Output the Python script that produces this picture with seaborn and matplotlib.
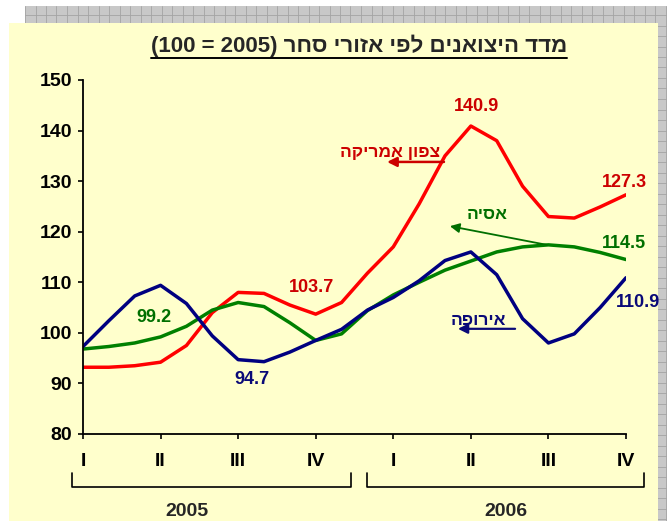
import matplotlib; matplotlib.use("Agg")
import matplotlib.pyplot as plt
import matplotlib.transforms as mtransforms
import numpy as np
import pandas as pd
import seaborn as sns
from matplotlib.lines import Line2D
from matplotlib.patches import Rectangle

# ---- data (monthly index, quarters marked every 3 months) ----
months = np.arange(22)
quarter_ticks = np.arange(0, 22, 3)
quarter_labels = ["I", "II", "III", "IV", "I", "II", "III", "IV"]
years = ["2005", "2006"]
north_america = [93.2, 93.2, 93.5, 94.2, 97.5, 104.0, 108.0, 107.8, 105.5, 103.7, 106.0,
                 111.8, 117.0, 125.5, 135.0, 140.9, 138.0, 129.0, 123.0, 122.7, 124.9, 127.3]
asia = [96.8, 97.3, 98.0, 99.2, 101.3, 104.5, 106.0, 105.2, 102.0, 98.5, 99.8,
        104.4, 107.5, 110.0, 112.4, 114.2, 116.0, 117.0, 117.4, 117.0, 115.9, 114.5]
europe = [97.3, 102.4, 107.3, 109.4, 105.8, 99.4, 94.7, 94.3, 96.2, 98.5, 100.7,
          104.5, 107.0, 110.3, 114.3, 116.0, 111.5, 102.8, 98.0, 99.8, 105.0, 110.9]

def rtl(s):
    # matplotlib lays glyphs left to right: reverse pure Hebrew runs
    return s[::-1]

TITLE = "(100 = 2005) " + rtl("מדד היצואנים לפי אזורי סחר")
NAMES = {"na": "צפון אמריקה", "asia": "אסיה", "eu": "אירופה"}
LINE_C = {"na": "#FF0000", "asia": "#008000", "eu": "#000080"}
TEXT_C = {"na": "#CC0000", "asia": "#006F00", "eu": "#0A0A78"}

df = pd.DataFrame({"month": np.tile(months, 3),
                   "value": north_america + asia + europe,
                   "region": ["na"] * 22 + ["asia"] * 22 + ["eu"] * 22})

sns.set_style("ticks")
plt.rcParams["font.family"] = ["Liberation Sans", "DejaVu Sans"]
plt.rcParams["font.weight"] = "bold"

W, H = 667, 521
fig = plt.figure(figsize=(W / 100, H / 100), dpi=100, facecolor="white")

def fx(x): return x / W
def fy(y): return 1 - y / H

# ---- background: grey grid frame + pale yellow panel ----
fig.patches.append(Rectangle((fx(25), 0), fx(667 - 25), fy(6), transform=fig.transFigure,
                             facecolor="#C8C8C8", edgecolor="none", zorder=-10))
for gx in np.arange(25, 668, 10.5):
    fig.lines.append(Line2D([fx(gx)] * 2, [0, fy(6)], transform=fig.transFigure,
                            color="#A4A4A4", lw=0.6, zorder=-9))
for gy in np.arange(15, 522, 10.5):
    fig.lines.append(Line2D([fx(25), 1], [fy(gy)] * 2, transform=fig.transFigure,
                            color="#A4A4A4", lw=0.6, zorder=-9))
fig.patches.append(Rectangle((fx(9), 0), fx(658 - 9), fy(23), transform=fig.transFigure,
                             facecolor="#FFFFCC", edgecolor="none", zorder=-8))

ax = fig.add_axes([fx(83), fy(434), fx(626 - 83), (434 - 80) / H])
ax.set_facecolor("none")

sns.lineplot(data=df, x="month", y="value", hue="region", palette=LINE_C,
             linewidth=2.5, legend=False, ax=ax)
for ln in ax.lines:
    ln.set_solid_joinstyle("round"); ln.set_solid_capstyle("round")

ax.set_xlim(0, 21); ax.set_ylim(80, 150)
ax.set_yticks(np.arange(80, 151, 10))
ax.set_xticks(quarter_ticks, quarter_labels)
ax.set_xlabel(""); ax.set_ylabel("")
sns.despine(ax=ax)
for s in ("left", "bottom"):
    ax.spines[s].set_linewidth(1.3); ax.spines[s].set_color("black")
ax.tick_params(axis="y", direction="out", length=3.6, width=1.2, pad=4.3, labelsize=14, colors="black")
ax.tick_params(axis="x", direction="out", length=3.6, width=1.2, pad=10, labelsize=14, colors="black")

# ---- year brackets under the quarter labels ----
tb = mtransforms.blended_transform_factory(ax.transData, ax.transAxes)
ylow, yhigh = -0.1497, -0.110
for x0, x1, yr, xc in [(-0.425, 10.36, years[0], 4.02), (10.98, 21.70, years[1], 16.36)]:
    ax.plot([x0, x0, x1, x1], [yhigh, ylow, ylow, yhigh], color="black", lw=1.2,
            transform=tb, clip_on=False)
    ax.text(xc, -0.218, yr, transform=tb, ha="center", va="center", fontsize=14)

# ---- value labels ----
series = {"na": north_america, "asia": asia, "eu": europe}
labels = [("asia", 3, (-5, 13.7)), ("eu", 6, (10, -14)), ("na", 9, (-3, 19)),
          ("na", 15, (4.3, 13.7)), ("na", 21, (-1.4, 8.6)), ("asia", 21, (-1.4, 11.9)),
          ("eu", 21, (8.6, -18))]
for key, i, off in labels:
    v = series[key][i]
    ax.annotate(f"{v:.1f}", (months[i], v), xytext=off, textcoords="offset points",
                ha="center", va="center", fontsize=13, color=TEXT_C[key], annotation_clip=False)

# ---- region names with arrows ----
names = [("na", (11.88, 135.6), (13.96, 133.8), (11.76, 133.8), 1.8),
         ("asia", (15.64, 123.5), (17.94, 117.4), (14.19, 121.1), 1.3),
         ("eu", (15.31, 102.5), (16.71, 100.8), (14.50, 100.8), 1.6)]
for key, tpos, a0, a1, lw in names:
    ax.text(*tpos, rtl(NAMES[key]), ha="center", va="center", fontsize=12.5, color=TEXT_C[key])
    ax.annotate("", xy=a1, xytext=a0,
                arrowprops=dict(arrowstyle="-|>", color=TEXT_C[key], lw=lw, mutation_scale=14,
                                shrinkA=0, shrinkB=0))

# ---- underlined title ----
t = fig.text(fx(359), fy(46), TITLE, ha="center", va="center", fontsize=16)
fig.canvas.draw()
bb = t.get_window_extent().transformed(fig.transFigure.inverted())
fig.lines.append(Line2D([bb.x0, bb.x1], [fy(58)] * 2, transform=fig.transFigure, color="black", lw=1.4))

fig.savefig("out.png", dpi=100, facecolor="white")
